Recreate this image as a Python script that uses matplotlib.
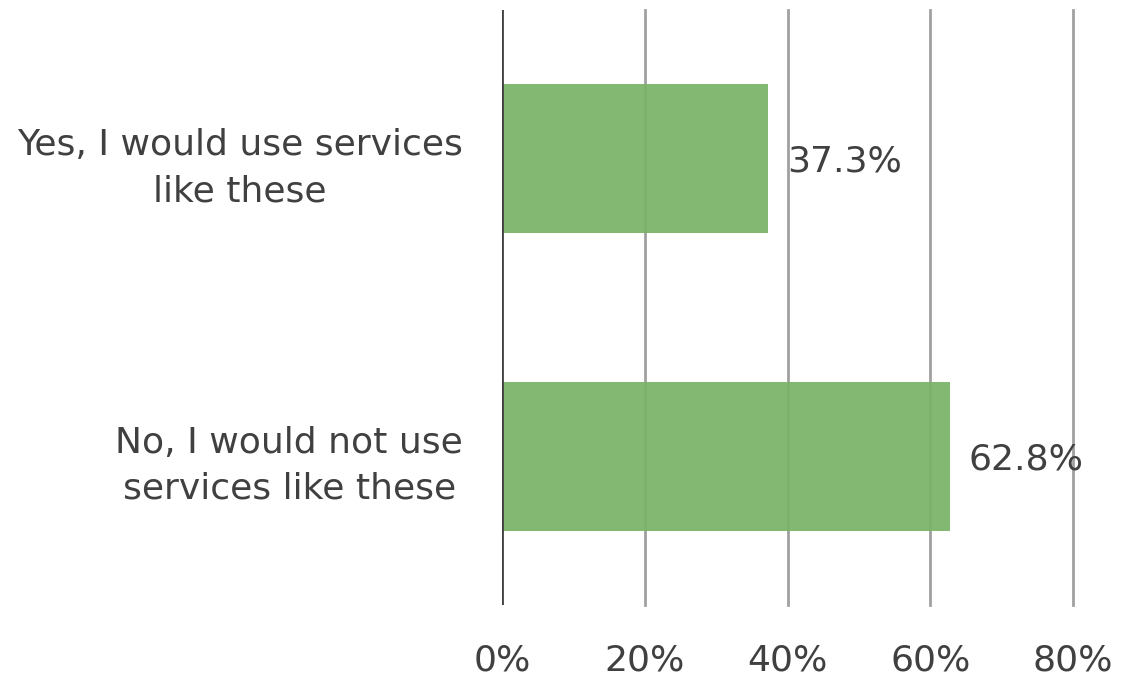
import matplotlib
matplotlib.use("Agg")
import matplotlib.pyplot as plt

categories = ["No, I would not use\nservices like these", "Yes, I would use services\nlike these"]
values = [62.8, 37.3]
ticks = [0, 20, 40, 60, 80]
tick_labels = ["0%", "20%", "40%", "60%", "80%"]

text_color = "#404040"
bar_color = "#79B267"
grid_color = "#A0A0A0"

plt.rcParams['font.family'] = ['DejaVu Sans']

fig = plt.figure(figsize=(11.21, 6.79), dpi=100)
ax = fig.add_axes([502 / 1121, 1 - 605 / 679, (1073 - 502) / 1121, 595 / 679])

ax.barh(range(len(categories)), values, height=0.5, color=bar_color, alpha=0.92, zorder=3)

for x in ticks[1:]:
    ax.axvline(x, color=grid_color, lw=2, zorder=2, clip_on=False)
ax.axvline(0, color=text_color, lw=2, zorder=4)

for i, v in enumerate(values):
    ax.text(v + 2.6, i - 0.01, f"{v:.1f}%", va="center", ha="left", fontsize=26, color=text_color, zorder=5)

ax.set_xlim(0, 80)
ax.set_ylim(-0.5, 1.5)
ax.set_xticks(ticks)
ax.set_xticklabels(tick_labels)
ax.set_yticks(range(len(categories)))
ax.set_yticklabels(categories, multialignment="center", linespacing=1.45)
ax.tick_params(axis="x", length=0, pad=28, labelsize=26, labelcolor=text_color)
ax.tick_params(axis="y", length=0, pad=28, labelsize=26, labelcolor=text_color)
for s in ax.spines.values():
    s.set_visible(False)

fig.savefig("out.png", dpi=100)
